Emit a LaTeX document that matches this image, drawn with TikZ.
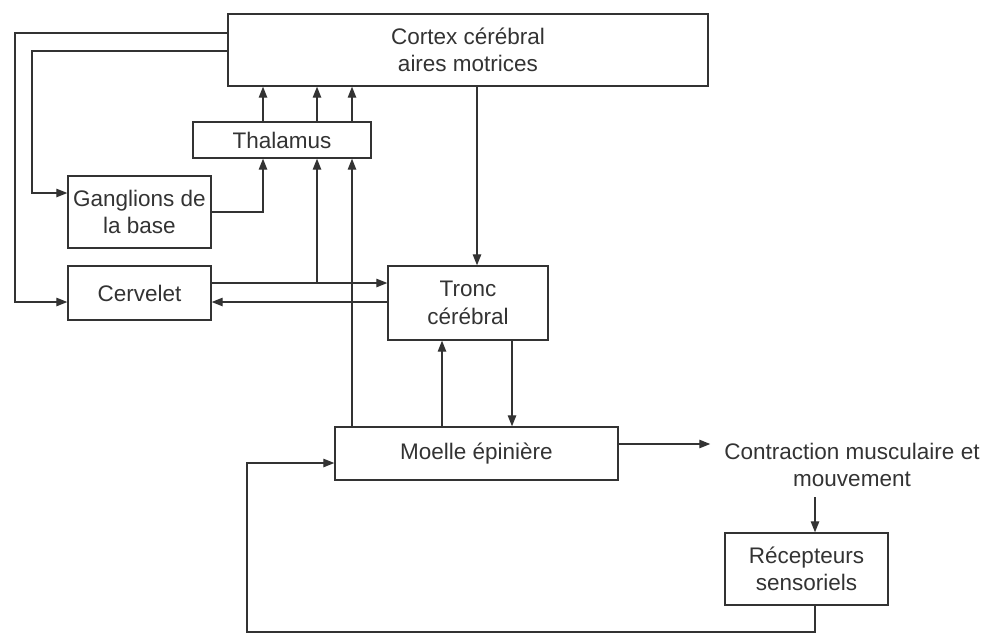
\documentclass[tikz,border=0pt]{standalone}
\usepackage{fontspec}
\setmainfont{Liberation Sans}
\usetikzlibrary{arrows.meta}
\definecolor{ink}{HTML}{333333}
\tikzset{
  box/.style={draw=ink, line width=1.4pt, fill=white, text=ink, align=center, inner sep=0pt},
  txt/.style={text=ink, align=center, inner xsep=14pt, inner ysep=10pt},
  ln/.style={draw=ink, line width=1.3pt},
  arr/.style={ln, -{Triangle[length=11pt,width=8.5pt]}},
}
\begin{document}
\begin{tikzpicture}[x=1pt,y=-1pt,font=\fontsize{22.5}{27.5}\selectfont]
\useasboundingbox (0,0) rectangle (984,640);
% nodes
\node[box, minimum width=480, minimum height=72] (cortex) at (468,50) {Cortex cérébral\\aires motrices};
\node[box, minimum width=178, minimum height=36] (thal) at (282,140) {Thalamus};
\node[box, minimum width=143, minimum height=72] (gang) at (139.5,212) {Ganglions de\\la base};
\node[box, minimum width=143, minimum height=54] (cerv) at (139.5,293) {Cervelet};
\node[box, minimum width=160, minimum height=74] (tronc) at (468,303) {Tronc\\cérébral};
\node[box, minimum width=283, minimum height=53] (moelle) at (476.5,453.5) {Moelle épinière};
\node[txt] (contr) at (852,465) {Contraction musculaire et\\mouvement};
\node[box, minimum width=163, minimum height=72] (recep) at (806.5,569) {Récepteurs\\sensoriels};
% helper coordinates
\coordinate (cx1) at (263,0);
\coordinate (cx2) at (317,0);
\coordinate (cx3) at (352,0);
\coordinate (cx4) at (477,0);
\coordinate (cx5) at (442,0);
\coordinate (cx6) at (512,0);
\coordinate (cx7) at (815,0);
\coordinate (xl1) at (15,0);
\coordinate (xl2) at (32,0);
\coordinate (xl3) at (247,0);
\coordinate (ry1) at (0,33);
\coordinate (ry2) at (0,51);
\coordinate (ry3) at (0,193);
\coordinate (ry4) at (0,212);
\coordinate (ry5) at (0,283);
\coordinate (ry6) at (0,302);
\coordinate (ry7) at (0,444);
\coordinate (ry8) at (0,463);
\coordinate (ry9) at (0,632);
% connectors
\draw[arr] (cortex.west |- ry1) -- (xl1 |- ry1) -- (xl1 |- ry6) -- (cerv.west |- ry6);
\draw[arr] (cortex.west |- ry2) -- (xl2 |- ry2) -- (xl2 |- ry3) -- (gang.west |- ry3);
\draw[arr] (gang.east |- ry4) -- (cx1 |- ry4) -- (thal.south -| cx1);
\draw[arr] (thal.north -| cx1) -- (cortex.south -| cx1);
\draw[arr] (thal.north -| cx2) -- (cortex.south -| cx2);
\draw[arr] (thal.north -| cx3) -- (cortex.south -| cx3);
\draw[arr] (cerv.east |- ry5) -- (tronc.west |- ry5);
\draw[arr] (cx2 |- ry5) -- (thal.south -| cx2);
\draw[arr] (tronc.west |- ry6) -- (cerv.east |- ry6);
\draw[arr] (moelle.north -| cx3) -- (thal.south -| cx3);
\draw[arr] (cortex.south -| cx4) -- (tronc.north -| cx4);
\draw[arr] (moelle.north -| cx5) -- (tronc.south -| cx5);
\draw[arr] (tronc.south -| cx6) -- (moelle.north -| cx6);
\draw[arr] (moelle.east |- ry7) -- (contr.west |- ry7);
\draw[arr] (contr.south -| cx7) -- (recep.north -| cx7);
\draw[arr] (recep.south -| cx7) -- (cx7 |- ry9) -- (xl3 |- ry9) -- (xl3 |- ry8) -- (moelle.west |- ry8);
\end{tikzpicture}
\end{document}
